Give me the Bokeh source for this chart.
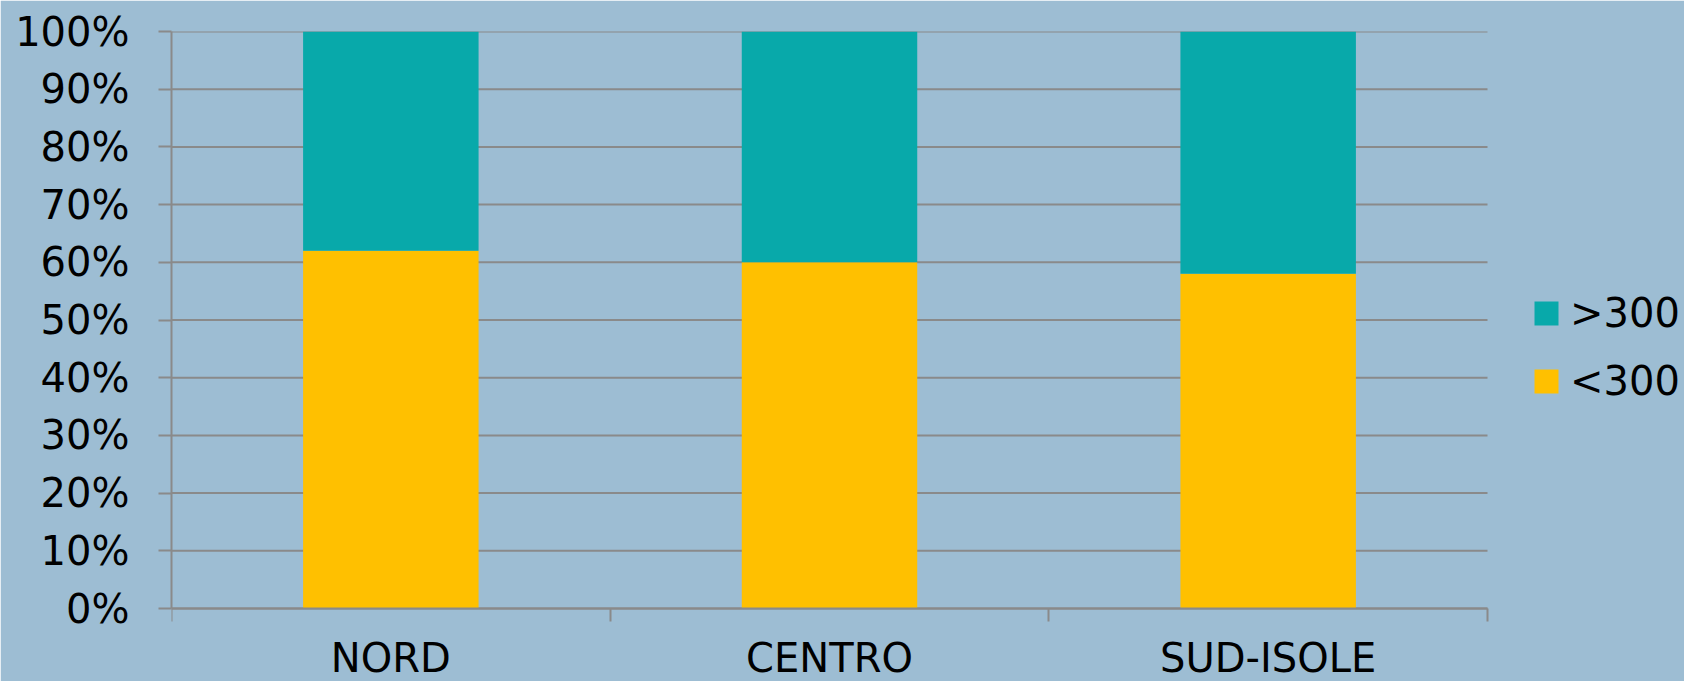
from bokeh.plotting import figure
from bokeh.models import ColumnDataSource, FixedTicker, Legend, LegendItem, Range1d
from bokeh.core.properties import value
from bokeh.embed import file_html
from bokeh.resources import INLINE

categories = ["NORD", "CENTRO", "SUD-ISOLE"]
below_300 = [0.62, 0.60, 0.58]
above_300 = [0.38, 0.40, 0.42]
series_names = ["<300", ">300"]
y_ticks = [0, 0.1, 0.2, 0.3, 0.4, 0.5, 0.6, 0.7, 0.8, 0.9, 1.0]
y_tick_labels = ["0%", "10%", "20%", "30%", "40%", "50%", "60%", "70%", "80%", "90%", "100%"]

# layout (pixels)
W, H = 1684, 681
LEFT, TOP = 171, 31          # plot area left / top (100%)
AXIS_Y = 608                  # 0% line
AREA_RIGHT = 1487             # right end of the category axis

BG = "#9DBDD3"
TEAL = "#08A9AA"
YELLOW = "#FFC000"
GRID = "#8A8A8A"
FONT = "DejaVu Sans"

n = len(categories)
px_per_unit_y = (AXIS_Y - TOP) / 1.0
y_start = -(H - AXIS_Y) / px_per_unit_y
px_per_cat = (AREA_RIGHT - LEFT) / n
x_end = (W - LEFT) / px_per_cat

xs = [i + 0.5 for i in range(n)]
bottom_top = [b + a for b, a in zip(below_300, above_300)]
src = ColumnDataSource(dict(x=xs, low=below_300, high=bottom_top, zero=[0] * n))

p = figure(width=W, height=H, output_backend="svg", toolbar_location=None,
           x_range=Range1d(0, x_end), y_range=Range1d(y_start, 1),
           x_axis_location="above",
           min_border_left=LEFT, min_border_right=0, min_border_top=TOP, min_border_bottom=0)
p.background_fill_color = BG
p.border_fill_color = BG
p.outline_line_color = BG
p.outline_line_width = 2
p.xgrid.visible = False
p.ygrid.visible = False

# horizontal gridlines limited to the category area
p.segment(x0=[0] * len(y_ticks), x1=[n] * len(y_ticks), y0=y_ticks, y1=y_ticks,
          line_color=GRID, line_width=2)

r_low = p.vbar(x="x", bottom="zero", top="low", width=0.4, source=src, fill_color=YELLOW, line_color=None)
r_high = p.vbar(x="x", bottom="low", top="high", width=0.4, source=src, fill_color=TEAL, line_color=None)

# category labels
p.text(x=xs, y=[0] * n, text=categories, y_offset=H - AXIS_Y - 1, text_align="center",
       text_baseline="bottom", text_font=value(FONT), text_font_size="40px", text_color="black")

# y axis
p.yaxis.bounds = (0, 1)
p.yaxis.ticker = FixedTicker(ticks=y_ticks)
p.yaxis.major_label_overrides = {t: l for t, l in zip(y_ticks, y_tick_labels)}
p.yaxis.axis_line_color = GRID
p.yaxis.axis_line_width = 2
p.yaxis.major_tick_line_color = GRID
p.yaxis.major_tick_line_width = 2
p.yaxis.major_tick_out = 13
p.yaxis.major_tick_in = 0
p.yaxis.minor_tick_line_color = None
p.yaxis.major_label_text_font = FONT
p.yaxis.major_label_text_font_size = "40px"
p.yaxis.major_label_text_color = "black"
p.yaxis.major_label_standoff = 29

# x axis drawn at y = 0, boundary ticks pointing down
p.xaxis.fixed_location = 0
p.xaxis.bounds = (0, n)
p.xaxis.ticker = FixedTicker(ticks=[], minor_ticks=list(range(n + 1)))
p.xaxis.axis_line_color = GRID
p.xaxis.axis_line_width = 2
p.xaxis.major_tick_line_color = None
p.xaxis.minor_tick_line_color = GRID
p.xaxis.minor_tick_line_width = 2
p.xaxis.minor_tick_out = 0
p.xaxis.minor_tick_in = 13

legend = Legend(items=[LegendItem(label=series_names[1], renderers=[r_high]),
                       LegendItem(label=series_names[0], renderers=[r_low])],
                location=(1531 - LEFT, H - 404), orientation="vertical")
legend.background_fill_alpha = 0
legend.border_line_color = None
legend.padding = 0
legend.margin = 0
legend.glyph_width = 30
legend.glyph_height = 30
legend.label_standoff = 9
legend.label_text_font = FONT
legend.label_text_font_size = "40px"
legend.label_text_color = "black"
legend.label_height = 30
legend.spacing = 22
p.add_layout(legend, "center")

open("out.html", "w").write(file_html(p, INLINE))
